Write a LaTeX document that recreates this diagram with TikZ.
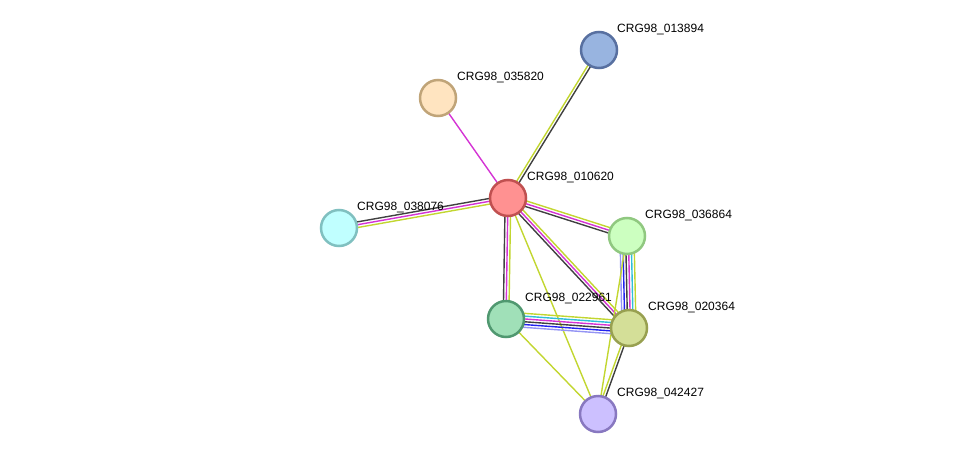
\documentclass[tikz,border=0pt]{standalone}
\usepackage{fontspec}
\setmainfont{Liberation Sans}
\usetikzlibrary{calc,backgrounds}
\definecolor{yg}{HTML}{C2D630}
\definecolor{dk}{HTML}{404040}
\definecolor{mg}{HTML}{D433D4}
\definecolor{cy}{HTML}{30BED8}
\definecolor{bl}{HTML}{2222EE}
\definecolor{lv}{HTML}{9494F4}
\tikzset{
  prot/.style={circle, minimum size=36pt, inner sep=0pt, line width=2.5pt},
  lbl/.style={anchor=base west, inner sep=0pt, font=\fontsize{12}{14}\selectfont, text=black},
  ln/.style={line width=1.4pt},
}
\newcommand\multiedge[3]{%
  \foreach \col [count=\i] in {#3} {\xdef\nlines{\i}}%
  \foreach \col [count=\i] in {#3} {%
    \pgfmathsetmacro\off{(\i-(\nlines+1)/2)*2.8}%
    \draw[ln, draw=\col] ($(#1)!\off pt!90:(#2)$) -- ($(#2)!\off pt!-90:(#1)$);
  }}
\begin{document}
\begin{tikzpicture}[x=1pt,y=-1pt]
\useasboundingbox (0,0) rectangle (976,460);
% proteins
\node[prot, fill={rgb,255:red,255;green,145;blue,145}, draw={rgb,255:red,192;green,80;blue,80}] (p010620) at (508,198) {};
\node[prot, fill={rgb,255:red,152;green,180;blue,224}, draw={rgb,255:red,88;green,112;blue,160}] (p013894) at (599,50) {};
\node[prot, fill={rgb,255:red,255;green,228;blue,192}, draw={rgb,255:red,192;green,164;blue,120}] (p035820) at (438,98) {};
\node[prot, fill={rgb,255:red,192;green,255;blue,255}, draw={rgb,255:red,128;green,192;blue,192}] (p038076) at (339,228) {};
\node[prot, fill={rgb,255:red,204;green,255;blue,192}, draw={rgb,255:red,144;green,200;blue,128}] (p036864) at (627,236) {};
\node[prot, fill={rgb,255:red,160;green,224;blue,184}, draw={rgb,255:red,80;green,152;blue,112}] (p022961) at (506,319) {};
\node[prot, fill={rgb,255:red,212;green,223;blue,152}, draw={rgb,255:red,152;green,160;blue,80}] (p020364) at (629,328) {};
\node[prot, fill={rgb,255:red,204;green,192;blue,255}, draw={rgb,255:red,136;green,120;blue,192}] (p042427) at (598,414) {};
% labels
\node[lbl] (l010620) at (527,180.5) {CRG98\_010620};
\node[lbl] (l013894) at (617,32.5) {CRG98\_013894};
\node[lbl] (l035820) at (457,80.5) {CRG98\_035820};
\node[lbl] (l038076) at (357,210.5) {CRG98\_038076};
\node[lbl] (l036864) at (645,218.5) {CRG98\_036864};
\node[lbl] (l022961) at (525,301.5) {CRG98\_022961};
\node[lbl] (l020364) at (648,310.5) {CRG98\_020364};
\node[lbl] (l042427) at (617,396.5) {CRG98\_042427};
% edges
\begin{scope}[on background layer]
\multiedge{p010620.center}{p013894.center}{dk,yg}
\multiedge{p010620.center}{p035820.center}{mg}
\multiedge{p010620.center}{p038076.center}{dk,mg,yg}
\multiedge{p010620.center}{p036864.center}{dk,mg,yg}
\multiedge{p010620.center}{p022961.center}{dk,mg,yg}
\multiedge{p010620.center}{p020364.center}{dk,mg,yg}
\multiedge{p010620.center}{p042427.center}{yg}
\multiedge{p036864.center}{p020364.center}{lv,bl,dk,mg,cy,yg}
\multiedge{p036864.center}{p042427.center}{yg}
\multiedge{p022961.center}{p020364.center}{lv,bl,dk,mg,cy,yg}
\multiedge{p022961.center}{p042427.center}{yg}
\multiedge{p042427.center}{p020364.center}{dk,yg}
\end{scope}
\end{tikzpicture}
\end{document}
